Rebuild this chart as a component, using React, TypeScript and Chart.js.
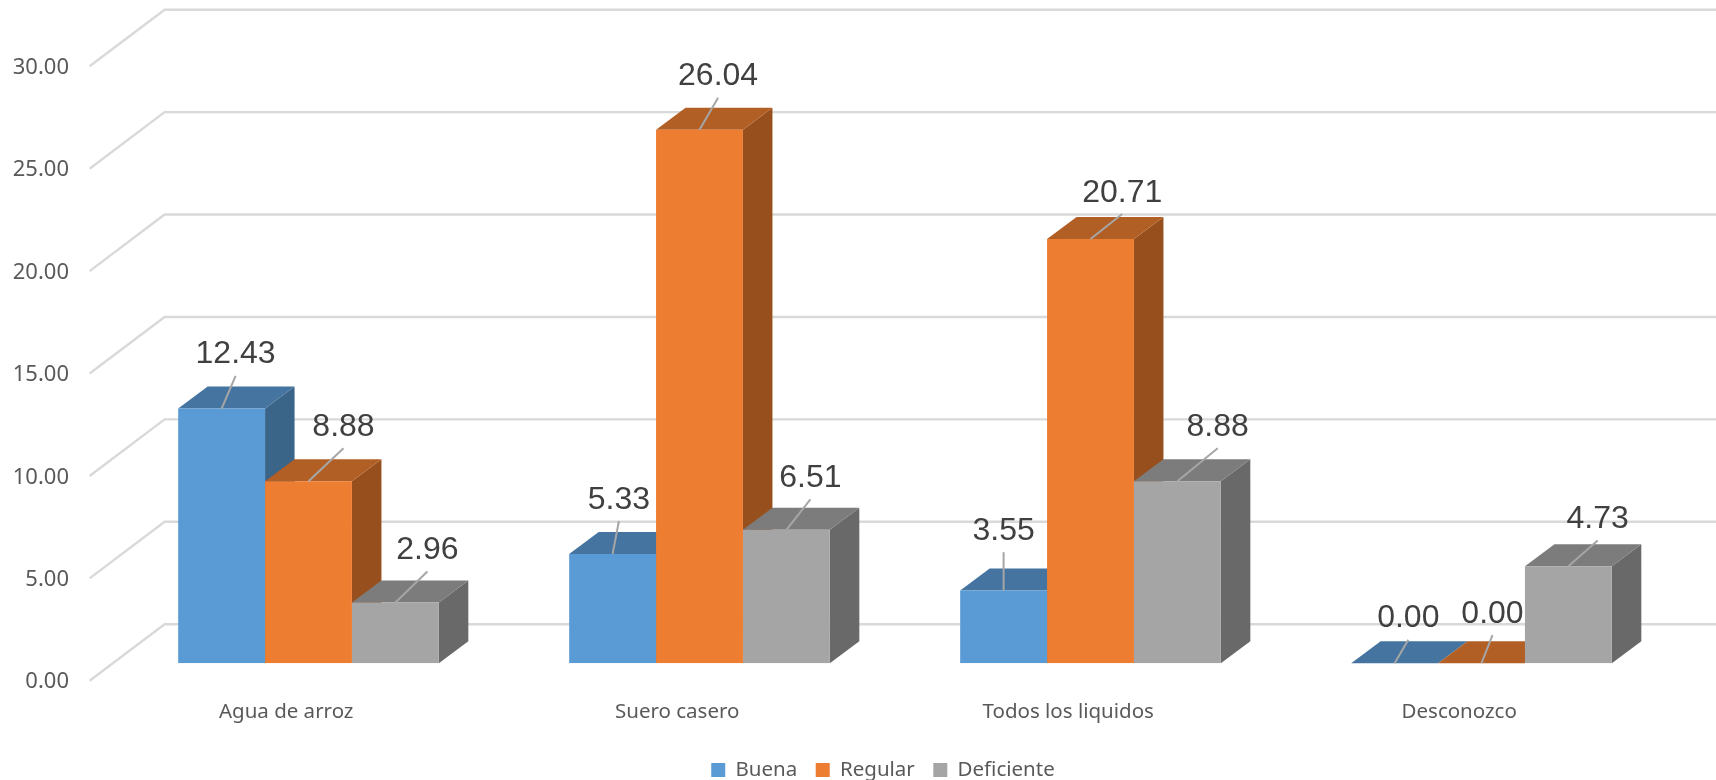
import React, { useEffect, useRef } from "react";
import { Chart, registerables } from "chart.js";

Chart.register(...registerables);

const categories = ["Agua de arroz", "Suero casero", "Todos los liquidos", "Desconozco"];
const buena = [12.43, 5.33, 3.55, 0.0];
const regular = [8.88, 26.04, 20.71, 0.0];
const deficiente = [2.96, 6.51, 8.88, 4.73];

// Face colours of each extruded column: front, top, side.
const seriesStyles = [
  { label: "Buena", data: buena, front: "#5B9BD5", top: "#44749F", side: "#3B6489" },
  { label: "Regular", data: regular, front: "#ED7D31", top: "#B25F25", side: "#97501D" },
  { label: "Deficiente", data: deficiente, front: "#A5A5A5", top: "#7C7C7C", side: "#696969" },
];

// Where each value's leader line ends, relative to the top front edge of its column.
const leaderTips = [
  [[14, -32.7], [6.3, -33], [0, -38.3], [13.7, -23.4]],
  [[35, -33], [18.6, -32], [31.7, -25], [11, -28]],
  [[32, -31], [24, -30.4], [40.3, -33], [29.3, -25.7]],
];

const BAR_DEPTH_X = 29.5;
const BAR_DEPTH_Y = 22;
// Offsets of the floor's front edge and back wall from the plane the column fronts stand on.
const FRONT_DX = 23.4;
const FRONT_DY = 17.6;
const BACK_DX = 51.6;
const BACK_DY = 39;
const LABEL_LIFT = 21.3;
// The legend sits lower and further right than its default slot under the axis.
const LEGEND_SHIFT_X = 44.5;
const LEGEND_SHIFT_Y = 10.3;

const AXIS_FONT = "'Noto Sans'";

function polygon(ctx: CanvasRenderingContext2D, points: number[][], fill: string) {
  ctx.beginPath();
  points.forEach(([x, y], i) => (i ? ctx.lineTo(x, y) : ctx.moveTo(x, y)));
  ctx.closePath();
  ctx.fillStyle = fill;
  ctx.fill();
}

// Floor and wall rules, plus the top and side faces behind the native column fronts.
const depthPlugin = {
  id: "depthFaces",
  afterLayout(chart: any) {
    const legend = chart.legend;
    legend.left += LEGEND_SHIFT_X;
    legend.right += LEGEND_SHIFT_X;
    legend.top += LEGEND_SHIFT_Y;
    legend.bottom += LEGEND_SHIFT_Y;
  },
  beforeDatasetsDraw(chart: any) {
    const { ctx, scales, chartArea, width } = chart;
    ctx.save();
    ctx.strokeStyle = "#D9D9D9";
    ctx.lineWidth = 2.4;
    scales.y.ticks.forEach((tick: any) => {
      const y = scales.y.getPixelForValue(tick.value);
      ctx.beginPath();
      ctx.moveTo(chartArea.left - FRONT_DX, y + FRONT_DY);
      ctx.lineTo(chartArea.left + BACK_DX, y - BACK_DY);
      ctx.lineTo(width, y - BACK_DY);
      ctx.stroke();
    });
    categories.forEach((_, c) => {
      seriesStyles.forEach((s, d) => {
        const el = chart.getDatasetMeta(d).data[c];
        const l = el.x - el.width / 2;
        const r = el.x + el.width / 2;
        const t = el.y;
        const b = el.base;
        polygon(ctx, [[r, t], [r + BAR_DEPTH_X, t - BAR_DEPTH_Y], [r + BAR_DEPTH_X, b - BAR_DEPTH_Y], [r, b]], s.side);
        polygon(ctx, [[l, t], [l + BAR_DEPTH_X, t - BAR_DEPTH_Y], [r + BAR_DEPTH_X, t - BAR_DEPTH_Y], [r, t]], s.top);
      });
    });
    ctx.restore();
  },
  afterDatasetsDraw(chart: any) {
    const { ctx } = chart;
    ctx.save();
    seriesStyles.forEach((s, d) => {
      chart.getDatasetMeta(d).data.forEach((el: any, c: number) => {
        const [dx, dy] = leaderTips[d][c];
        ctx.strokeStyle = "#A6A6A6";
        ctx.lineWidth = 2;
        ctx.beginPath();
        ctx.moveTo(el.x, el.y);
        ctx.lineTo(el.x + dx, el.y + dy);
        ctx.stroke();
        ctx.fillStyle = "#404040";
        ctx.font = "32px 'Liberation Sans'";
        ctx.textAlign = "center";
        ctx.textBaseline = "middle";
        ctx.fillText(s.data[c].toFixed(2), el.x + dx, el.y + dy - LABEL_LIFT);
      });
    });
    ctx.restore();
  },
};

export default function App() {
  const canvasRef = useRef<HTMLCanvasElement>(null);

  useEffect(() => {
    const chart = new Chart(canvasRef.current!, {
      type: "bar",
      data: {
        labels: categories,
        datasets: seriesStyles.map((s) => ({
          label: s.label,
          data: s.data,
          backgroundColor: s.front,
          borderWidth: 0,
          barPercentage: 1,
          categoryPercentage: 2 / 3,
        })),
      },
      plugins: [depthPlugin],
      options: {
        animation: false,
        responsive: false,
        layout: { padding: { left: 0, right: 39, top: 48.7, bottom: 0 } },
        plugins: {
          tooltip: { enabled: false },
          legend: {
            position: "bottom",
            labels: {
              boxWidth: 14,
              boxHeight: 14,
              padding: 18.5,
              color: "#595959",
              font: { family: AXIS_FONT, size: 20.5 },
            },
          },
        },
        scales: {
          x: {
            grid: { display: false, drawTicks: false },
            border: { display: false },
            afterFit: (scale: any) => {
              scale.height = 67.8;
            },
            ticks: {
              autoSkip: false,
              maxRotation: 0,
              padding: 36.6,
              labelOffset: -22.3,
              color: "#595959",
              font: { family: AXIS_FONT, size: 20.5 },
            },
          },
          y: {
            min: 0,
            max: 30,
            // The unpainted tick length keeps the labels clear of the floor's front edge.
            grid: { display: false, drawTicks: true, tickLength: 44 },
            border: { display: false },
            afterFit: (scale: any) => {
              scale.width = 113;
            },
            ticks: {
              stepSize: 5,
              padding: 0,
              labelOffset: 19,
              color: "#595959",
              font: { family: AXIS_FONT, size: 22 },
              callback: (v: any) => Number(v).toFixed(2),
            },
          },
        },
      },
    } as any);
    return () => chart.destroy();
  }, []);

  return (
    <div style={{ position: "absolute", left: 0, top: 0, width: 1716, height: 780, background: "#fff" }}>
      <canvas ref={canvasRef} width={1716} height={780} style={{ display: "block" }} />
    </div>
  );
}
